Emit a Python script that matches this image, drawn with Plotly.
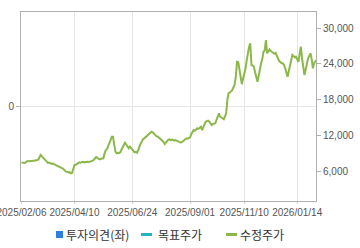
import pandas as pd
import plotly.graph_objects as go

# Korean market holidays in the window
holidays = ["2025-03-03", "2025-05-01", "2025-05-05", "2025-05-06", "2025-06-03",
            "2025-06-06", "2025-08-15", "2025-10-03", "2025-10-06", "2025-10-07",
            "2025-10-08", "2025-10-09", "2025-12-25", "2025-12-31", "2026-01-01"]

price_seg1 = [7470, 7420, 7340, 7400, 7600, 7720, 7680, 7700, 7750, 7700, 7760, 7720, 7800, 7890, 7950, 8400, 8730,
              8500, 8250, 8050, 7800, 7600, 7400, 7450, 7300, 7250, 7300, 7200, 7100, 7050, 6950, 6900, 6720, 6600, 6500, 6350, 6100,
              5950, 5900, 5800, 5850, 5660, 5700, 6400]
price_seg2 = [7050, 7100, 7250, 7350, 7500, 7450, 7550, 7600, 7500, 7550, 7650, 7600, 7550, 7600, 7700,
              7800, 7900, 8200, 8390, 8250, 8100, 8010, 8100, 8200, 8170, 9000,
              9560, 9700, 10120, 10800, 11240, 11790, 11800, 10500,
              9280, 9010, 9100, 9050, 9180, 9600, 10100, 10500,
              10790, 10500, 10100, 9850, 10120, 9900, 9600, 9400, 9180, 9250, 9110, 9600]
price_seg3 = [10300, 10690, 11000, 11400, 11520, 11700, 11800, 12080, 12200, 12400, 12630, 12530,
              12300, 12100, 11900, 11830, 11600, 11500, 11240, 11100, 10900, 10570, 10800,
              11100, 11300, 11360, 11200, 11300, 11250, 11150, 11240, 11100, 11000, 10900, 10820, 10850,
              11000, 11200, 11400, 11520, 11450, 11600, 11690, 12200, 12600, 12910, 12800, 13000, 13200, 13100, 13300, 13470, 12910]
price_seg4 = [13300, 13900, 14300, 14400, 14470, 14300, 14000, 13750, 13900, 14000, 14040, 14600, 15300, 15710, 15140, 15000, 14800, 14710, 15200, 15710,
              18000, 19060, 19200, 19330, 19600, 20030, 20500, 21840, 24350, 24300, 23000, 21290, 20620, 21500, 22300,
              23130, 24500, 26030, 26800, 27440, 23800, 23700, 23520, 22600, 21800, 21000, 22000, 23500, 24090, 24800, 26000, 26310, 27990, 25760, 26000,
              26400, 26150, 26000, 25900, 25700, 25810, 25300, 24800, 24470, 24300, 24100, 24090, 23800, 23250, 22600, 21840, 22800,
              23800, 24800, 25480, 25300, 25100, 25190, 24800, 24350, 25600, 26870, 24920, 23500, 22130, 23000, 24300, 24920, 25300, 25760, 24800, 23250, 24090, 24300, 24640]
adj_price = price_seg1 + price_seg2 + price_seg3 + price_seg4

days = [d for d in pd.bdate_range("2025-02-06", "2026-02-27") if d.strftime("%Y-%m-%d") not in holidays]
dates = [d.strftime("%Y/%m/%d") for d in days][:len(adj_price)]

tick_dates = ["2025/02/06", "2025/04/10", "2025/06/24", "2025/09/01", "2025/11/10", "2026/01/14"]
right_ticks = [6000, 12000, 18000, 24000, 30000]
right_labels = ["6,000", "12,000", "18,000", "24,000", "30,000"]

legend_names = ["투자의견(좌)", "목표주가", "수정주가"]
c_blue, c_teal, c_green = "#2b7fe0", "#27b2c2", "#8cb84a"

fig = go.Figure()
fig.add_trace(go.Bar(x=[], y=[], name=legend_names[0], marker_color=c_blue, yaxis="y", showlegend=False))
fig.add_trace(go.Scatter(x=[], y=[], name=legend_names[1], line=dict(color=c_teal), yaxis="y2", showlegend=False))
fig.add_trace(go.Scatter(x=dates, y=adj_price, name=legend_names[2], mode="lines",
                         line=dict(color=c_green, width=2), yaxis="y2", showlegend=False))

L, R, T, B = 21, 44, 12, 47
W, H = 360, 248
pw, ph = W - L - R, H - T - B
def px(x): return (x - L) / pw
def py(y): return (H - B - y) / ph

tickfont = dict(family="Liberation Sans, Arial", size=10, color="#555555")
fig.update_layout(
    width=W, height=H, margin=dict(l=L, r=R, t=T, b=B, autoexpand=False),
    paper_bgcolor="white", plot_bgcolor="white",
    xaxis=dict(type="category", range=[-0.4, 244.6], tickmode="array", tickvals=tick_dates,
               ticktext=tick_dates, showgrid=True, gridcolor="#e6e6e6", gridwidth=1,
               showline=True, linecolor="#b0b0b0", linewidth=1, mirror=True, automargin=False,
               ticks="outside", ticklen=2, tickcolor="#d0d0d0", tickfont=tickfont, tickangle=0),
    yaxis=dict(range=[-1, 1], tickmode="array", tickvals=[0], ticktext=["0"], showgrid=True,
               gridcolor="#e6e6e6", zeroline=False, showline=True, linecolor="#b0b0b0", automargin=False,
               ticks="outside", ticklen=4, tickcolor="#b0b0b0", tickfont=tickfont),
    yaxis2=dict(range=[1026, 32680], overlaying="y", side="right", tickmode="array",
                tickvals=right_ticks, ticktext=right_labels, showgrid=False, zeroline=False,
                showline=True, linecolor="#b0b0b0", ticks="outside", ticklen=4, automargin=False,
                tickcolor="#b0b0b0", tickfont=tickfont),
    showlegend=False,
)

# custom legend
ly = 234.5
fig.add_shape(type="rect", xref="paper", yref="paper", x0=px(56), x1=px(63), y0=py(238), y1=py(231),
              fillcolor=c_blue, line=dict(width=0))
fig.add_shape(type="line", xref="paper", yref="paper", x0=px(141), x1=px(152), y0=py(ly), y1=py(ly),
              line=dict(color=c_teal, width=3))
fig.add_shape(type="line", xref="paper", yref="paper", x0=px(226), x1=px(237), y0=py(ly), y1=py(ly),
              line=dict(color=c_green, width=3))
legfont = dict(family="Noto Sans CJK KR", size=12, color="#333333")
for name, xl in zip(legend_names, [64, 156, 238]):
    fig.add_annotation(text=name, xref="paper", yref="paper", x=px(xl), y=py(ly), xanchor="left",
                       yanchor="middle", showarrow=False, font=legfont)

fig.write_html("out.html")
